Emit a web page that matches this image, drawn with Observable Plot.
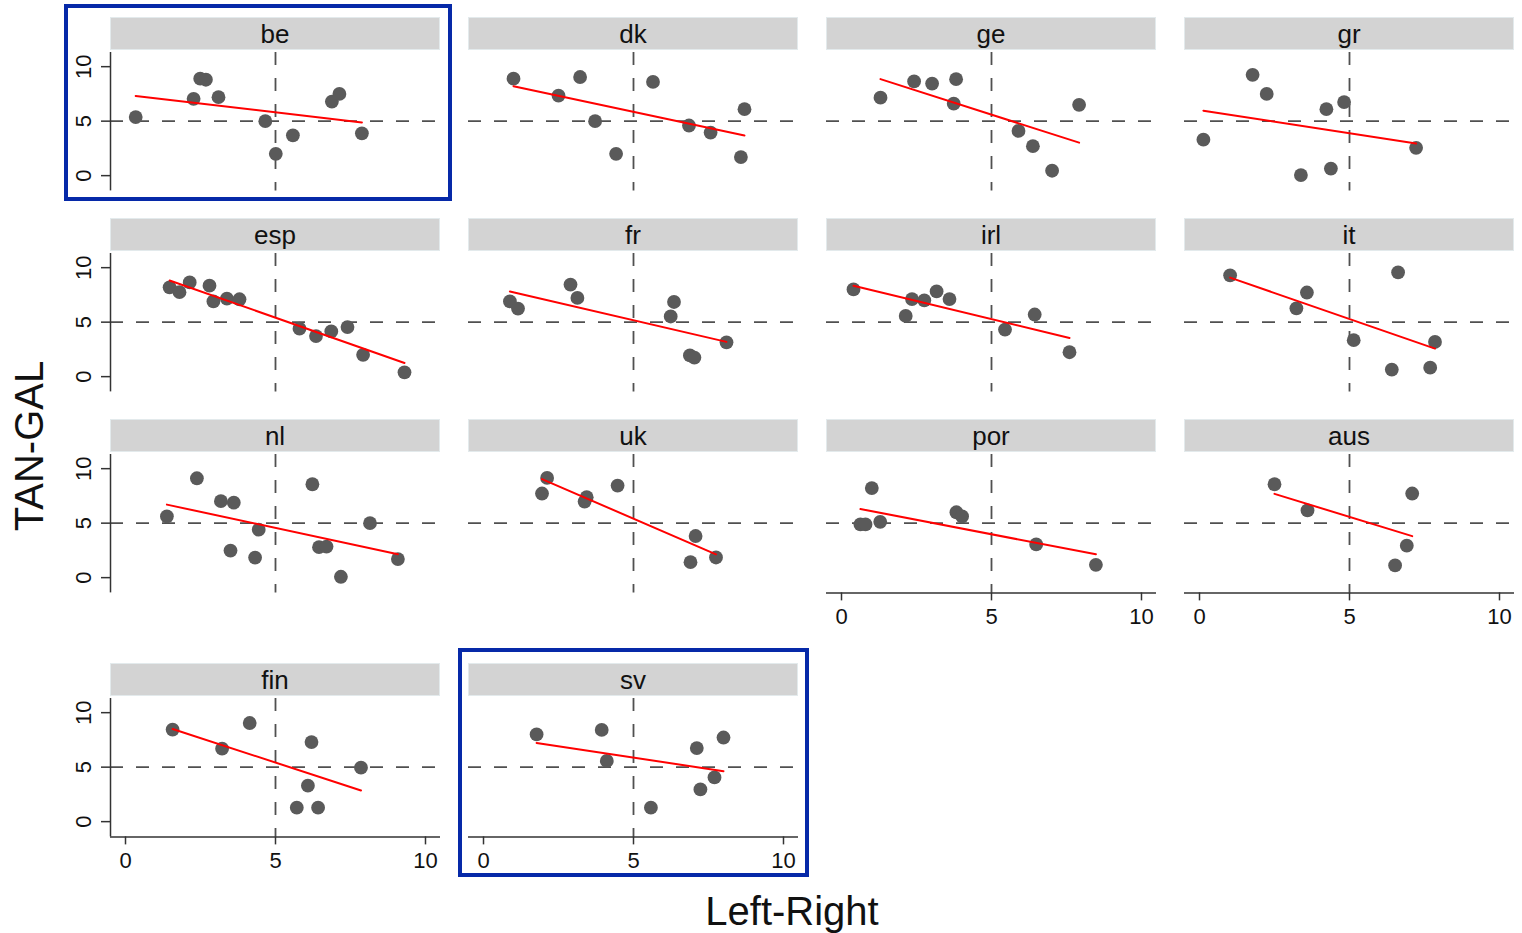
<!DOCTYPE html>
<html><head><meta charset="utf-8">
<script src="https://cdn.jsdelivr.net/npm/d3@7"></script>
<script src="https://cdn.jsdelivr.net/npm/@observablehq/plot@0.6"></script>
<style>
body{margin:0;background:#fff;}
#root{position:relative;width:1522px;height:933px;font-family:"Liberation Sans",Arial,Helvetica,sans-serif;overflow:hidden;background:#fff;}
.hdr{position:absolute;background:#d3d3d3;box-sizing:border-box;border:1px solid #e3eaec;text-align:center;font-size:26px;line-height:32px;color:#111;}
.panel{position:absolute;}
.panel svg{overflow:visible;max-width:none !important;display:block;}
.box{position:absolute;border:4px solid #0629a8;box-sizing:border-box;}
.ttl{position:absolute;font-size:40px;color:#111;white-space:nowrap;line-height:1;}
</style></head><body><div id="root"></div>
<script>
// Panels in display order
const countries = ["be","dk","ge","gr","esp","fr","irl","it","nl","uk","por","aus","fin","sv"];
// Left-Right (x) and TAN-GAL (y) positions per country
const beLR  = [0.34, 2.27, 2.49, 2.68, 3.10, 4.66, 5.01, 5.58, 6.88, 7.13, 7.88];
const beTG  = [5.37, 7.05, 8.90, 8.80, 7.20, 5.00, 2.00, 3.70, 6.80, 7.50, 3.88];
const dkLR  = [1.00, 2.50, 3.22, 3.72, 4.42, 5.65, 6.85, 7.57, 8.70, 8.58];
const dkTG  = [8.90, 7.35, 9.05, 5.00, 2.00, 8.60, 4.60, 3.95, 6.10, 1.70];
const geLR  = [1.30, 2.42, 3.02, 3.82, 3.74, 5.90, 6.38, 7.02, 7.92];
const geTG  = [7.15, 8.65, 8.45, 8.85, 6.60, 4.10, 2.70, 0.45, 6.50];
const grLR  = [0.13, 1.77, 2.24, 4.23, 4.82, 3.38, 4.38, 7.22];
const grTG  = [3.30, 9.25, 7.50, 6.10, 6.75, 0.05, 0.65, 2.55];
const espLR = [1.47, 1.80, 2.14, 2.80, 2.93, 3.38, 3.80, 5.80, 6.35, 6.86, 7.40, 7.92, 9.30];
const espTG = [8.20, 7.75, 8.65, 8.35, 6.90, 7.15, 7.10, 4.40, 3.72, 4.15, 4.55, 2.00, 0.40];
const frLR  = [0.88, 1.15, 2.90, 3.13, 6.35, 6.24, 6.88, 7.03, 8.10];
const frTG  = [6.90, 6.25, 8.45, 7.22, 6.85, 5.52, 1.95, 1.75, 3.15];
const irlLR = [0.40, 2.14, 2.35, 2.76, 3.17, 3.60, 5.45, 6.44, 7.60];
const irlTG = [8.00, 5.57, 7.12, 7.00, 7.82, 7.12, 4.32, 5.70, 2.24];
const itLR  = [1.02, 3.58, 3.23, 6.62, 5.14, 7.85, 6.41, 7.69];
const itTG  = [9.30, 7.72, 6.27, 9.57, 3.35, 3.18, 0.65, 0.82];
const nlLR  = [1.38, 2.38, 3.18, 3.61, 3.50, 4.32, 4.44, 6.23, 6.45, 6.70, 7.18, 8.15, 9.08];
const nlTG  = [5.63, 9.12, 7.02, 6.88, 2.48, 1.84, 4.40, 8.57, 2.80, 2.85, 0.08, 5.00, 1.70];
const ukLR  = [1.95, 2.12, 3.37, 3.44, 4.47, 7.07, 6.90, 7.75];
const ukTG  = [7.72, 9.15, 6.98, 7.38, 8.45, 3.82, 1.42, 1.85];
const porLR = [0.63, 0.80, 1.01, 1.29, 3.83, 4.02, 6.49, 8.48];
const porTG = [4.88, 4.88, 8.22, 5.12, 6.00, 5.62, 3.05, 1.18];
const ausLR = [2.50, 3.60, 7.09, 6.91, 6.52];
const ausTG = [8.57, 6.17, 7.72, 2.93, 1.12];
const finLR = [1.57, 3.22, 4.14, 6.20, 6.08, 5.71, 6.42, 7.85];
const finTG = [8.45, 6.70, 9.05, 7.30, 3.30, 1.28, 1.28, 4.95];
const svLR  = [1.77, 3.94, 4.11, 5.58, 7.11, 8.00, 7.23, 7.70];
const svTG  = [8.00, 8.42, 5.57, 1.28, 6.75, 7.72, 2.96, 4.06];

const xTicks = [0, 5, 10];
const yTicks = [0, 5, 10];
const refLine = 5;
const xDomain = [-0.5, 10.5];
const yDomain = [-1.4, 11.3];
const highlighted = ["be", "sv"];
const withYAxis = ["be", "esp", "nl", "fin"];
const withXAxis = ["por", "aus", "fin", "sv"];

const seriesLR = {be:beLR, dk:dkLR, ge:geLR, gr:grLR, esp:espLR, fr:frLR, irl:irlLR, it:itLR, nl:nlLR, uk:ukLR, por:porLR, aus:ausLR, fin:finLR, sv:svLR};
const seriesTG = {be:beTG, dk:dkTG, ge:geTG, gr:grTG, esp:espTG, fr:frTG, irl:irlTG, it:itTG, nl:nlTG, uk:ukTG, por:porTG, aus:ausTG, fin:finTG, sv:svTG};

const root = document.getElementById("root");
const FONT = '"Liberation Sans", Arial, Helvetica, sans-serif';
const colStep = 358, plotW = 330, plotH = 138.4;
const rowHdrTop = [17, 218, 419, 663];
const mL = 60, mR = 8, mT = 12, mB = 60;

countries.forEach((c, i) => {
  const col = i < 12 ? i % 4 : (i - 12);
  const row = i < 12 ? Math.floor(i / 4) : 3;
  const L = 110 + col * colStep;
  const hTop = rowHdrTop[row];
  const pTop = hTop + 34.5;
  const data = seriesLR[c].map((x, k) => ({x, y: seriesTG[c][k]}));

  const dash = {stroke: "#505050", strokeWidth: 1.8, strokeDasharray: "13,13"};
  const marks = [
    Plot.ruleY([refLine], dash),
    Plot.ruleX([refLine], dash),
    Plot.dot(data, {x: "x", y: "y", r: 6.9, fill: "#5a5a5a", stroke: "none"}),
    Plot.linearRegressionY(data, {x: "x", y: "y", stroke: "#ff0000", strokeWidth: 2, ci: 0})
  ];
  if (withYAxis.includes(c)) {
    marks.push(Plot.ruleX([xDomain[0]], {stroke: "#333", strokeWidth: 1.5}));
    marks.push(Plot.axisY({ticks: yTicks, tickSize: 9, tickRotate: -90, tickPadding: 11, fontSize: 22, stroke: "#333", strokeWidth: 1.5, fill: "#111"}));
  } else {
    marks.push(Plot.axisY({ticks: [], label: null}));
  }
  if (withXAxis.includes(c)) {
    marks.push(Plot.ruleY([yDomain[0]], {stroke: "#333", strokeWidth: 1.5}));
    marks.push(Plot.axisX({ticks: xTicks, tickSize: 8, tickPadding: 7, fontSize: 22, stroke: "#333", strokeWidth: 1.5, fill: "#111"}));
  } else {
    marks.push(Plot.axisX({ticks: [], label: null}));
  }

  const W = mL + plotW + mR, H = mT + plotH + mB;
  const svg = Plot.plot({
    width: W,
    height: H,
    marginLeft: mL, marginRight: mR, marginTop: mT, marginBottom: mB,
    x: {domain: xDomain, label: null},
    y: {domain: yDomain, label: null},
    style: {fontFamily: FONT, fontSize: "22px", background: "transparent", overflow: "visible"},
    marks
  });
  const wrap = document.createElement("div");
  wrap.className = "panel";
  wrap.style.left = (L - mL) + "px";
  wrap.style.top = (pTop - mT) + "px";
  wrap.style.width = W + "px";
  wrap.style.height = H + "px";
  wrap.appendChild(svg);
  root.appendChild(wrap);

  const hdr = document.createElement("div");
  hdr.className = "hdr";
  hdr.style.left = L + "px";
  hdr.style.top = hTop + "px";
  hdr.style.width = plotW + "px";
  hdr.style.height = "33px";
  hdr.textContent = c;
  root.appendChild(hdr);
});

// highlight boxes
const boxes = {be: [64, 4, 388, 197], sv: [458, 648, 351, 229]};
highlighted.forEach(c => {
  const [l, t, w, h] = boxes[c];
  const b = document.createElement("div");
  b.className = "box";
  Object.assign(b.style, {left: l + "px", top: t + "px", width: w + "px", height: h + "px"});
  root.appendChild(b);
});

// axis titles
const yt = document.createElement("div");
yt.className = "ttl";
yt.textContent = "TAN-GAL";
Object.assign(yt.style, {left: "29px", top: "446px", transform: "translate(-50%,-50%) rotate(-90deg)"});
root.appendChild(yt);
const xt = document.createElement("div");
xt.className = "ttl";
xt.textContent = "Left-Right";
Object.assign(xt.style, {left: "792px", top: "891px", transform: "translateX(-50%)"});
root.appendChild(xt);
</script>
</body></html>
